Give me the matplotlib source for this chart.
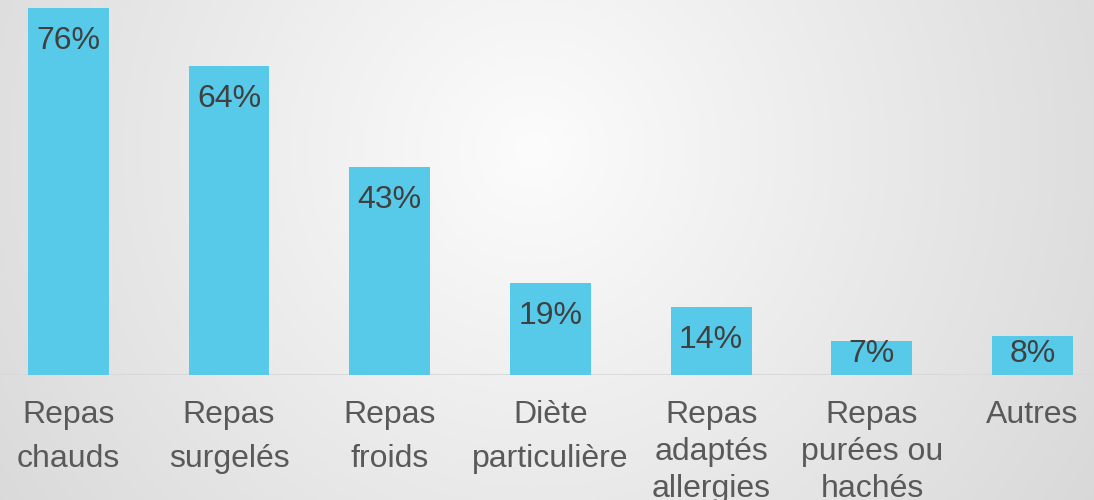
import numpy as np
import matplotlib.pyplot as plt

# --- Datos ---
categorias = ["Repas\nchauds", "Repas\nsurgelés", "Repas\nfroids",
              "Diète\nparticulière", "Repas\nadaptés\nallergies",
              "Repas\npurées ou\nhachés", "Autres"]
valores = [76, 64, 43, 19, 14, 7, 8]
etiquetas = ["76%", "64%", "43%", "19%", "14%", "7%", "8%"]

COLOR_BARRA = '#56CAE8'
COLOR_TEXTO = '#404040'
COLOR_CAT = '#595959'

plt.rcParams['font.family'] = ['Liberation Sans', 'DejaVu Sans']

W, H = 1094, 500
fig = plt.figure(figsize=(W / 100, H / 100), dpi=100)

# --- Fondo con degradado radial ---
bg = fig.add_axes([0, 0, 1, 1], zorder=-1)
yy, xx = np.mgrid[0:H, 0:W]
d = np.sqrt((xx - 533) ** 2 + (yy - 150) ** 2)
g = np.clip(252 - d / 560 * 30, 215, 252) / 255.0
bg.imshow(np.dstack([g, g, g]), aspect='auto', extent=[0, 1, 0, 1])
bg.set_axis_off()

# --- Barras ---
ax = fig.add_axes([0, 0.25, 1, 0.75])
ax.patch.set_alpha(0)
x = np.arange(len(valores))
ax.bar(x, valores, width=0.503, color=COLOR_BARRA, zorder=2)
ax.set_xlim(-0.425, 6.382)
ax.set_ylim(0, 77.6)

for xi, v, lab in zip(x, valores, etiquetas):
    ax.text(xi, max(v - 8.5, 2.7), lab, ha='center', va='baseline',
            fontsize=23, color=COLOR_TEXTO, zorder=3)

ax.axhline(0, color='#D9D9D9', linewidth=1.5, zorder=1)
for s in ax.spines.values():
    s.set_visible(False)
ax.set_yticks([])
ax.set_xticks(x)
ax.set_xticklabels(categorias, fontsize=23, color=COLOR_CAT)
# las etiquetas de 3 líneas van más apretadas
for t in ax.get_xticklabels():
    n = t.get_text().count('\n') + 1
    t.set_linespacing(1.63 if n == 2 else 1.3)
ax.tick_params(axis='x', length=0, pad=18)

fig.savefig('out.png', dpi=100)
